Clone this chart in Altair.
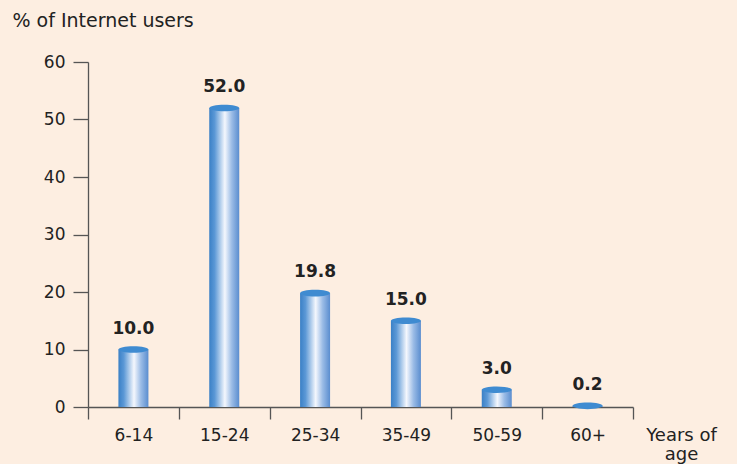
import altair as alt
import pandas as pd
import jinja2

ages = ["6-14", "15-24", "25-34", "35-49", "50-59", "60+"]
shares = [10.0, 52.0, 19.8, 15.0, 3.0, 0.2]
labels = ["10.0", "52.0", "19.8", "15.0", "3.0", "0.2"]

df = pd.DataFrame({"age": ages, "share": shares, "label": labels})

FONT = "DejaVu Sans"
BG = "#fdeee1"

x = alt.X(
    "age:N",
    sort=ages,
    scale=alt.Scale(paddingInner=0, paddingOuter=0),
    axis=alt.Axis(
        title=["Years of", "age"],
        titleX=593,
        titleY=19,
        titleAlign="center",
        titleBaseline="top",
        titleFontWeight="normal",
        titleFontSize=18,
        titleFont=FONT,
        titleColor="#222222",
        titleLineHeight=19,
        labelAngle=0,
        labelFont=FONT,
        labelFontSize=17,
        labelColor="#222222",
        labelPadding=8,
        tickBand="extent",
        tickSize=12,
        tickColor="#555555",
        domainColor="#555555",
        tickWidth=1.3,
        domainWidth=1.3,
    ),
)

y = alt.Y(
    "share:Q",
    scale=alt.Scale(domain=[0, 60], nice=False),
    axis=alt.Axis(
        values=[0, 10, 20, 30, 40, 50, 60],
        title="% of Internet users",
        titleAngle=0,
        titleX=-76,
        titleY=-42,
        titleAlign="left",
        titleBaseline="middle",
        titleFontWeight="normal",
        titleFontSize=19,
        titleFont=FONT,
        titleColor="#222222",
        labelFont=FONT,
        labelFontSize=17,
        labelColor="#222222",
        labelPadding=8,
        tickSize=15,
        tickColor="#555555",
        domainColor="#555555",
        tickWidth=1.3,
        domainWidth=1.3,
        grid=False,
    ),
)

grad = alt.LinearGradient(
    gradient="linear",
    x1=0, x2=1, y1=0, y2=0,
    stops=[
        alt.GradientStop(color="#3a80c6", offset=0),
        alt.GradientStop(color="#5b98d6", offset=0.18),
        alt.GradientStop(color="#f4f7fd", offset=0.52),
        alt.GradientStop(color="#9bbce6", offset=0.75),
        alt.GradientStop(color="#5a8dcf", offset=1),
    ],
)

base = alt.Chart(df)

bars = base.mark_bar(color=grad, size=30).encode(x=x, y=y)

ellipse = "M -1 0 A 1 0.22 0 1 1 1 0 A 1 0.22 0 1 1 -1 0 Z"
tops = base.mark_point(
    shape=ellipse, filled=True, color="#3f8bd1", opacity=1, size=900, strokeWidth=0
).encode(x=x, y=y)

text = base.mark_text(
    font=FONT, fontSize=17, fontWeight="bold", color="#222222", baseline="bottom", dy=-12
).encode(x=x, y=y, text="label:N")

PAGE = jinja2.Template(
    """<!DOCTYPE html>
<html>
<head>
  <style>
    html, body { margin: 0; padding: 0; background: """ + BG + """; overflow: hidden; }
  </style>
  <script type="text/javascript" src="{{ base_url }}/vega@{{ vega_version }}"></script>
  <script type="text/javascript" src="{{ base_url }}/vega-lite@{{ vegalite_version }}"></script>
  <script type="text/javascript" src="{{ base_url }}/vega-embed@{{ vegaembed_version }}"></script>
</head>
<body>
  <div id="{{ output_div }}"></div>
  <script type="text/javascript">
    (function(vegaEmbed) {
      var spec = {{ spec }};
      var embedOpt = {{ embed_options }};
      vegaEmbed("#{{ output_div }}", spec, embedOpt).catch(function(err) {
        document.getElementById("{{ output_div }}").innerHTML = String(err);
      });
    })(vegaEmbed);
  </script>
</body>
</html>
"""
)

chart = (
    alt.layer(bars, tops, text)
    .properties(
        width=545,
        height=345,
        background=BG,
        padding={"left": 88, "top": 62, "right": 104, "bottom": 57},
        autosize=alt.AutoSizeParams(type="none"),
    )
    .configure_view(stroke=None)
)

chart.save("out.html", embed_options={"renderer": "svg", "actions": False}, template=PAGE)
